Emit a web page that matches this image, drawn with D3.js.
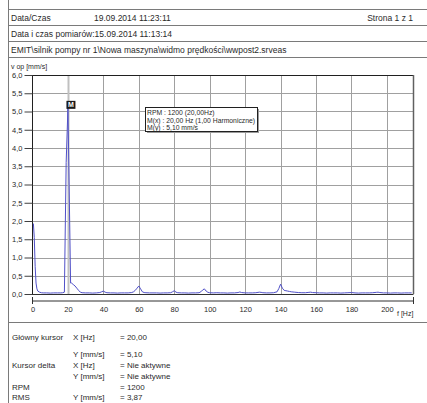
<!DOCTYPE html>
<html>
<head>
<meta charset="utf-8">
<script src="https://cdn.jsdelivr.net/npm/d3@7"></script>
<style>
  html, body { margin: 0; padding: 0; background: #fff; }
  svg { display: block; font-family: "Liberation Sans", Arial, sans-serif; }
</style>
</head>
<body>
<svg id="page" width="427" height="403"></svg>
<script>
// Velocity spectrum (frequency in Hz, velocity in mm/s)
const freqHz = [0.5,1,1.5,2,2.5,3,4,5,6,8,10,12,14,16,17,18,19,20,21.5,22,23,24,25,26,27,28,30,32,34,36,38,39,40,41,42,44,46,48,50,52,54,56,57,58,59,60,61,62,63,64,66,68,70,72,74,76,78,79,80,81,82,84,86,88,90,92,94,95,96,97,98,99,100,102,104,106,108,110,112,114,116,117,118,120,122,124,126,128,129,130,132,134,136,138,139,140,141,142,143,144,145,146,148,150,152,154,156,157,158,160,162,164,166,168,170,172,174,176,178,180,182,184,186,188,190,192,194,195,196,198,200,202,204,206,208,210,212,214];
const velocity = [1.93,1.55,0.75,0.3,0.14,0.08,0.05,0.035,0.03,0.03,0.025,0.03,0.03,0.03,0.035,0.05,3.6,5.10,0.3,0.3,0.26,0.22,0.16,0.1,0.05,0.035,0.03,0.03,0.025,0.03,0.04,0.06,0.08,0.05,0.035,0.03,0.03,0.025,0.03,0.03,0.03,0.04,0.06,0.1,0.16,0.22,0.14,0.06,0.04,0.035,0.03,0.03,0.03,0.025,0.03,0.03,0.035,0.06,0.09,0.05,0.035,0.03,0.03,0.025,0.03,0.03,0.035,0.06,0.11,0.14,0.08,0.045,0.035,0.03,0.035,0.03,0.03,0.025,0.03,0.03,0.04,0.055,0.04,0.03,0.03,0.03,0.035,0.05,0.045,0.035,0.03,0.03,0.035,0.06,0.15,0.27,0.16,0.1,0.09,0.08,0.07,0.06,0.05,0.04,0.035,0.035,0.045,0.05,0.04,0.035,0.03,0.03,0.025,0.03,0.03,0.03,0.025,0.03,0.035,0.04,0.03,0.025,0.03,0.03,0.03,0.035,0.045,0.05,0.04,0.03,0.03,0.025,0.03,0.03,0.025,0.03,0.03,0.03];

const yTicks = [0,0.5,1,1.5,2,2.5,3,3.5,4,4.5,5,5.5,6];
const xTicks = [0,20,40,60,80,100,120,140,160,180,200];
const xMax = 215;

// Cursor / marker
const markerHz = 20.00;
const markerValue = 5.10;

const headerRows = [
  ["Data/Czas", "19.09.2014 11:23:11", "Strona 1 z 1"],
  ["Data i czas pomiarów:15.09.2014 11:13:14", "", ""],
  ["EMIT\\silnik pompy nr 1\\Nowa maszyna\\widmo prędkości\\wwpost2.srveas", "", ""]
];
const infoBoxLines = ["RPM : 1200 (20,00Hz)", "M(x) : 20,00 Hz (1,00 Harmoniczne)", "M(y) : 5,10 mm/s"];
const cursorLabels = ["Główny kursor", "", "Kursor delta", "", "RPM", "RMS"];
const cursorUnits = ["X [Hz]", "Y [mm/s]", "X [Hz]", "Y [mm/s]", "", "Y [mm/s]"];
const cursorValues = ["= 20,00", "= 5,10", "= Nie aktywne", "= Nie aktywne", "= 1200", "= 3,87"];

const svg = d3.select("#page");
const ink = "#2a2a2a";
const frame = "#7a7a7a";

// ---- page frame and header table ----
svg.append("line").attr("x1", 8.5).attr("x2", 8.5).attr("y1", 0).attr("y2", 403)
  .attr("stroke", frame).attr("stroke-width", 1);
[9.5, 25.5, 41.5, 57.5, 322.5].forEach(y => {
  svg.append("line").attr("x1", 8).attr("x2", 427).attr("y1", y).attr("y2", y)
    .attr("stroke", frame).attr("stroke-width", 1);
});
headerRows.forEach((row, i) => {
  const base = 20.5 + i * 16;
  svg.append("text").attr("x", 11).attr("y", base).text(row[0])
    .attr("font-size", 8.5).attr("fill", ink);
  if (row[1]) svg.append("text").attr("x", 94).attr("y", base).text(row[1])
    .attr("font-size", 8.5).attr("fill", ink);
  if (row[2]) svg.append("text").attr("x", 413).attr("y", base).text(row[2])
    .attr("text-anchor", "end").attr("font-size", 8.5).attr("fill", ink);
});

// ---- chart ----
const plot = { left: 32.5, right: 413.5, top: 75, bottom: 294 };
const x = d3.scaleLinear().domain([0, xMax]).range([plot.left, plot.right]);
const y = d3.scaleLinear().domain([0, 6]).range([plot.bottom, plot.top]);
const commaFmt = d3.formatLocale({ decimal: ",", thousands: " ", grouping: [3], currency: ["", ""] }).format(".1f");

const g = svg.append("g");

// grid
g.selectAll("line.hgrid").data(yTicks.filter(v => v > 0 && v < 6)).enter().append("line")
  .attr("class", "hgrid")
  .attr("x1", plot.left).attr("x2", plot.right)
  .attr("y1", d => Math.round(y(d)) + 0.5).attr("y2", d => Math.round(y(d)) + 0.5)
  .attr("stroke", "#a0a0a0").attr("stroke-width", 1);
g.selectAll("line.vgrid").data(xTicks.filter(v => v > 0)).enter().append("line")
  .attr("class", "vgrid")
  .attr("x1", d => Math.round(x(d)) + 0.5).attr("x2", d => Math.round(x(d)) + 0.5)
  .attr("y1", plot.top).attr("y2", plot.bottom)
  .attr("stroke", d => d === markerHz ? "#c0c0c0" : "#a0a0a0")
  .attr("stroke-width", d => d === markerHz ? 2 : 1);

// plot border
g.append("line").attr("x1", plot.left).attr("x2", plot.right).attr("y1", plot.top + 0.5).attr("y2", plot.top + 0.5)
  .attr("stroke", "#202020");
g.append("line").attr("x1", plot.right).attr("x2", plot.right).attr("y1", plot.top).attr("y2", plot.bottom)
  .attr("stroke", "#606060").attr("stroke-width", 1.5);
g.append("line").attr("x1", plot.left).attr("x2", plot.left).attr("y1", plot.top).attr("y2", plot.bottom + 1)
  .attr("stroke", "#202020");
g.append("line").attr("x1", plot.left).attr("x2", plot.right).attr("y1", plot.bottom + 0.5).attr("y2", plot.bottom + 0.5)
  .attr("stroke", "#303030");

// y axis
const yAxis = d3.axisLeft(y).tickValues(yTicks).tickSize(8).tickPadding(2).tickFormat(commaFmt);
const ya = svg.append("g").attr("transform", `translate(${plot.left},0)`).call(yAxis);
ya.select(".domain").remove();
ya.selectAll(".tick line").attr("stroke", "#404040");
ya.selectAll(".tick text").attr("font-size", 7.5).attr("fill", ink).attr("font-family", "Liberation Sans, Arial, sans-serif");
svg.append("text").attr("x", 11).attr("y", 69).text("v op [mm/s]")
  .attr("font-size", 7).attr("fill", ink);

// x axis (separate ruler under the plot)
const axisY = 300.5;
const xAxis = d3.axisBottom(x).tickValues(xTicks).tickSize(0).tickPadding(6).tickFormat(d3.format("d"));
const xa = svg.append("g").attr("transform", `translate(0,${axisY})`).call(xAxis);
xa.select(".domain").attr("stroke", "#303030");
xa.selectAll(".tick text").attr("font-size", 7.5).attr("fill", ink).attr("font-family", "Liberation Sans, Arial, sans-serif");
[0, xMax].forEach(v => {
  svg.append("line").attr("x1", x(v)).attr("x2", x(v)).attr("y1", axisY - 3.5).attr("y2", axisY + 3.5)
    .attr("stroke", "#303030");
});
svg.append("text").attr("x", 397).attr("y", 316).text("f [Hz]")
  .attr("font-size", 7).attr("fill", ink);

// spectrum trace
const pts = freqHz.map((f, i) => [f, velocity[i]]);
const line = d3.line().x(d => x(d[0])).y(d => y(d[1]));
g.append("path").datum(pts).attr("d", line)
  .attr("fill", "none").attr("stroke", "#5050c8").attr("stroke-width", 1);

// marker "M"
const mx = x(markerHz), my = y(markerValue);
svg.append("rect").attr("x", mx - 1.5).attr("y", my - 7).attr("width", 9).attr("height", 8)
  .attr("fill", "#1a1a1a");
svg.append("text").attr("x", mx + 3).attr("y", my - 0.5).text("M")
  .attr("text-anchor", "middle").attr("font-size", 7).attr("font-weight", "bold").attr("fill", "#fff");

// info box
const box = { x: 145.5, y: 107.5, w: 112, h: 24 };
svg.append("rect").attr("x", box.x + 1.5).attr("y", box.y + 1.5).attr("width", box.w).attr("height", box.h)
  .attr("fill", "#9a9a9a");
svg.append("rect").attr("x", box.x).attr("y", box.y).attr("width", box.w).attr("height", box.h)
  .attr("fill", "#fff").attr("stroke", "#202020").attr("stroke-width", 1);
infoBoxLines.forEach((t, i) => {
  svg.append("text").attr("x", box.x + 1.5).attr("y", box.y + 7.5 + i * 7.5).text(t)
    .attr("font-size", 6.8).attr("fill", ink);
});

// cursor summary
const rowY = [340, 357, 368, 379, 390, 400];
rowY.forEach((yy, i) => {
  if (cursorLabels[i]) svg.append("text").attr("x", 12).attr("y", yy).text(cursorLabels[i]).attr("font-size", 8).attr("fill", ink);
  if (cursorUnits[i]) svg.append("text").attr("x", 73).attr("y", yy).text(cursorUnits[i]).attr("font-size", 8).attr("fill", ink);
  svg.append("text").attr("x", 120).attr("y", yy).text(cursorValues[i]).attr("font-size", 8).attr("fill", ink);
});
</script>
</body>
</html>
